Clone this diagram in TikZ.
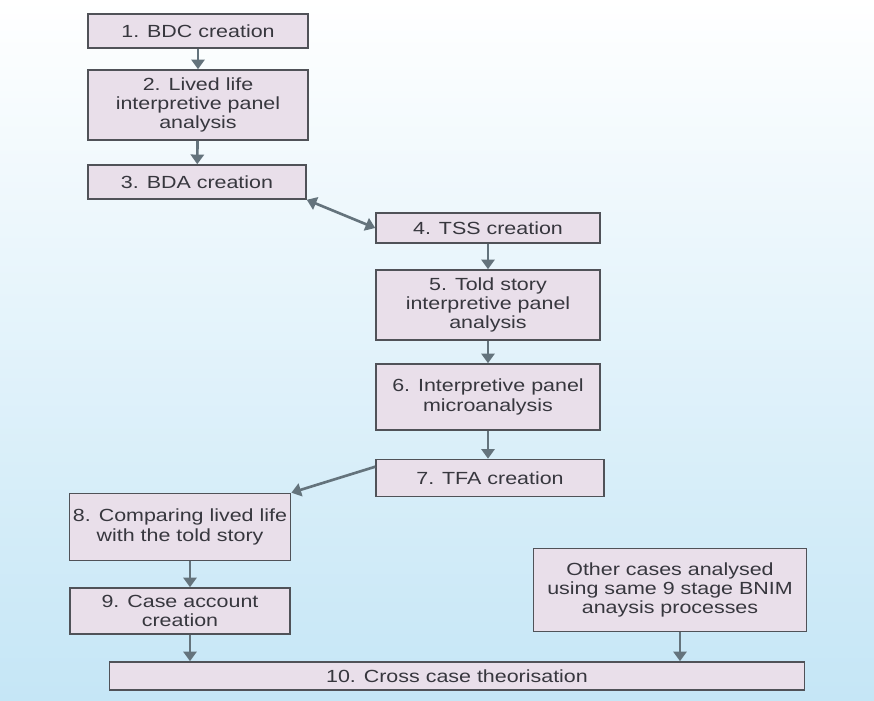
\documentclass[tikz,border=0pt]{standalone}
\usepackage{fontspec}
\setmainfont[FakeStretch=1.22]{Liberation Sans}
\usetikzlibrary{arrows.meta}
\definecolor{panel}{RGB}{233,223,234}
\definecolor{panelline}{RGB}{80,82,88}
\definecolor{panelink}{RGB}{55,55,62}
\definecolor{flow}{RGB}{100,115,124}
\definecolor{sky}{RGB}{197,230,246}
\definecolor{skymid}{RGB}{226,242,251}
\tikzset{
  stage/.style={draw=panelline, fill=panel, line width=0.9pt, align=center,
                inner sep=2pt, text=panelink, font=\fontsize{10}{11}\selectfont},
  flowarrow/.style={-{Triangle[length=5.5pt,width=7.5pt]}, line width=1.5pt, draw=flow},
  twoway/.style={flowarrow, {Triangle[length=5.5pt,width=7.5pt]}-{Triangle[length=5.5pt,width=7.5pt]}},
}

\begin{document}
\begin{tikzpicture}[x=0.02cm, y=-0.02cm]
  % background
  \shade[top color=white, middle color=skymid, bottom color=sky] (0,0) rectangle (874,700);
  \useasboundingbox (0,0) rectangle (874,700);

  % lived life side
  \node[stage, minimum width=4.4cm, minimum height=0.68cm] (bdc) at (198,31) {1. BDC creation};
  \node[stage, minimum width=4.4cm, minimum height=1.4cm] (lived) at (198,105)
    {2. Lived life\\interpretive panel\\analysis};
  \node[stage, minimum width=4.36cm, minimum height=0.68cm] (bda) at (197,182) {3. BDA creation};

  % told story side
  \node[stage, minimum width=4.48cm, minimum height=0.6cm] (tss) at (488,228) {4. TSS creation};
  \node[stage, minimum width=4.48cm, minimum height=1.4cm] (told) at (488,305)
    {5. Told story\\interpretive panel\\analysis};
  \node[stage, minimum width=4.48cm, minimum height=1.32cm] (micro) at (488,397)
    {6. Interpretive panel\\microanalysis};
  \node[stage, minimum width=4.56cm, minimum height=0.74cm] (tfa) at (490,478) {7. TFA creation};

  % bringing both together
  \node[stage, minimum width=4.4cm, minimum height=1.34cm] (compare) at (180,527)
    {8. Comparing lived life\\with the told story};
  \node[stage, minimum width=4.4cm, minimum height=0.92cm] (account) at (180,611)
    {9. Case account\\creation};
  \node[stage, minimum width=5.46cm, minimum height=1.66cm] (others) at (670,590)
    {Other cases analysed\\using same 9 stage BNIM\\anaysis processes};
  \node[stage, minimum width=13.9cm, minimum height=0.56cm] (cross) at (457,676)
    {10. Cross case theorisation};

  \draw[flowarrow] (bdc) -- (lived);
  \draw[flowarrow] (lived) -- (bda);
  \draw[twoway] (bda.south east) -- (tss.west);
  \draw[flowarrow] (tss) -- (told);
  \draw[flowarrow] (told) -- (micro);
  \draw[flowarrow] (micro.south) -- (micro.south |- tfa.north);
  \draw[flowarrow] ([yshift=-0.16cm]tfa.north west) -- (compare.north east);
  \draw[flowarrow] ([xshift=0.2cm]compare.south) -- ([xshift=0.2cm]account.north);
  \draw[flowarrow] ([xshift=0.2cm]account.south) -- ([xshift=0.2cm]account.south |- cross.north);
  \draw[flowarrow] ([xshift=0.2cm]others.south) -- ([xshift=0.2cm]others.south |- cross.north);
\end{tikzpicture}
\end{document}
